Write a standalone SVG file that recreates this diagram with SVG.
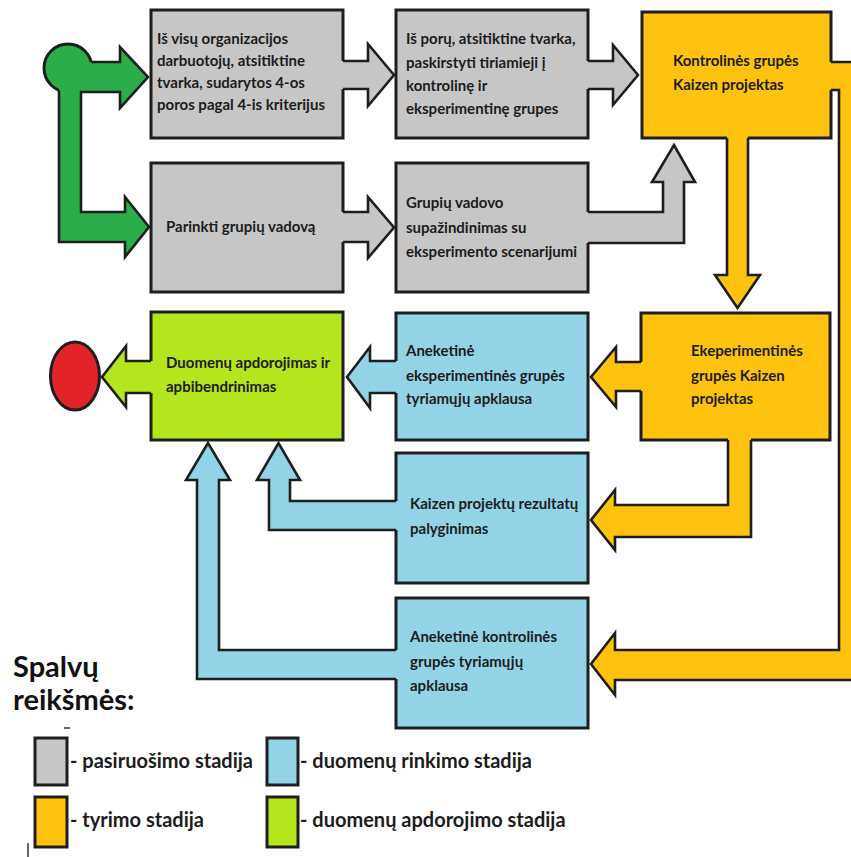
<svg xmlns="http://www.w3.org/2000/svg" width="851" height="857" viewBox="0 0 851 857">
<style>
.box{stroke:#1e1e1e;stroke-width:3}
.gray{fill:#c6c6c6}.yel{fill:#ffc20e}.blue{fill:#93d3e6}.lime{fill:#b5e51d}.grn{fill:#2aae4a}.red{fill:#e2232a}
.af{stroke:none}
.ao{fill:none;stroke:#1e1e1e;stroke-width:2.6;stroke-linejoin:miter}
.t{font-family:Lato,"Liberation Sans",sans-serif;font-weight:700;font-size:15px;fill:#1c1c1c}
.lg{font-family:Lato,"Liberation Sans",sans-serif;font-weight:700;font-size:20px;fill:#1c1c1c}
.hd{font-family:Lato,"Liberation Sans",sans-serif;font-weight:700;font-size:29px;fill:#111}
</style>
<rect width="851" height="857" fill="#fff"/>

<g id="start"><circle cx="68" cy="68" r="24" class="grn box"/></g>
<g id="end"><ellipse cx="75" cy="376" rx="24.5" ry="34" class="red box"/></g>

<g id="n1"><rect x="151" y="10" width="192" height="128" class="gray box"/>
<text class="t" x="157" y="44">Iš visų organizacijos</text><text class="t" x="157" y="66">darbuotojų, atsitiktine</text><text class="t" x="157" y="88">tvarka, sudarytos 4-os</text><text class="t" x="157" y="110">poros pagal 4-is kriterijus</text></g>
<g id="n2"><rect x="151" y="163" width="192" height="129" class="gray box"/>
<text class="t" x="166" y="232">Parinkti grupių vadovą</text></g>
<g id="n3"><rect x="396" y="10" width="192" height="128" class="gray box"/>
<text class="t" x="406" y="44">Iš porų, atsitiktine tvarka,</text><text class="t" x="406" y="68">paskirstyti tiriamieji į</text><text class="t" x="406" y="91">kontrolinę ir</text><text class="t" x="406" y="114">eksperimentinę grupes</text></g>
<g id="n4"><rect x="396" y="163" width="192" height="129" class="gray box"/>
<text class="t" x="406" y="208">Grupių vadovo</text><text class="t" x="406" y="233">supažindinimas su</text><text class="t" x="406" y="257">eksperimento scenarijumi</text></g>
<g id="n5"><rect x="642" y="12" width="189" height="126" class="yel box"/>
<text class="t" x="673" y="66">Kontrolinės grupės</text><text class="t" x="673" y="90">Kaizen projektas</text></g>
<g id="n6"><rect x="641" y="313" width="189" height="127" class="yel box"/>
<text class="t" x="691" y="356">Ekeperimentinės</text><text class="t" x="691" y="381">grupės Kaizen</text><text class="t" x="691" y="404">projektas</text></g>
<g id="n7"><rect x="151" y="312" width="192" height="128" class="lime box"/>
<text class="t" x="166" y="368">Duomenų apdorojimas ir</text><text class="t" x="166" y="392">apbibendrinimas</text></g>
<g id="n8"><rect x="396" y="313" width="192" height="127" class="blue box"/>
<text class="t" x="406" y="356">Aneketinė</text><text class="t" x="406" y="381">eksperimentinės grupės</text><text class="t" x="406" y="404">tyriamųjų apklausa</text></g>
<g id="n9"><rect x="396" y="453" width="192" height="130" class="blue box"/>
<text class="t" x="410" y="509">Kaizen projektų rezultatų</text><text class="t" x="410" y="534">palyginimas</text></g>
<g id="n10"><rect x="396" y="598" width="192" height="130" class="blue box"/>
<text class="t" x="410" y="642">Aneketinė kontrolinės</text><text class="t" x="410" y="667">grupės tyriamųjų</text><text class="t" x="410" y="691">apklausa</text></g>

<g id="connectors">
<!-- start arms -->
<polygon class="grn af" points="80,62 120,62 120,47 148,77 120,108 120,92 81,92 81,212 125,212 125,197 149,227 125,257 125,242 59,242 59,80"/>
<path class="ao" d="M91.2,62 L120,62 L120,47 L148,77 L120,108 L120,92 L81,92 L81,212 L125,212 L125,197 L149,227 L125,257 L125,242 L59,242 L59,90.2"/>
<!-- gray1 -> gray3 -->
<polygon class="gray af" points="340,61 368,61 368,44 394,75 368,106 368,89 340,89"/>
<path class="ao" d="M343,61 L368,61 L368,44 L394,75 L368,106 L368,89 L343,89"/>
<!-- gray2 -> gray4 -->
<polygon class="gray af" points="340,212 368,212 368,197 394,227.5 368,258 368,242 340,242"/>
<path class="ao" d="M343,212 L368,212 L368,197 L394,227.5 L368,258 L368,242 L343,242"/>
<!-- gray3 -> yellow1 -->
<polygon class="gray af" points="585,61 613,61 613,45 638,75 613,105 613,89 585,89"/>
<path class="ao" d="M588,61 L613,61 L613,45 L638,75 L613,105 L613,89 L588,89"/>
<!-- gray4 -> yellow1 -->
<polygon class="gray af" points="585,212 663,212 663,182 652,182 674,145 695,182 684,182 684,243 585,243"/>
<path class="ao" d="M588,212 L663,212 L663,182 L652,182 L674,145 L695,182 L684,182 L684,243 L588,243"/>
<!-- yellow1 -> yellow2 -->
<polygon class="yel af" points="727,135 727,275 715,275 737.5,308 760,275 748,275 748,135"/>
<path class="ao" d="M727,138 L727,275 L715,275 L737.5,308 L760,275 L748,275 L748,138"/>
<!-- yellow1 -> blue3 -->
<polygon class="yel af" points="828,62 875,62 875,680 615,680 615,695 591,664 615,633 615,650 839,650 839,90 828,90"/>
<path class="ao" d="M831,62 L875,62 M831,90 L839,90 L839,650 L615,650 L615,633 L591,664 L615,695 L615,680 L875,680"/>
<!-- yellow2 -> blue1 -->
<polygon class="yel af" points="644,362 616,362 616,347 591,377 616,407 616,391 644,391"/>
<path class="ao" d="M641,362 L616,362 L616,347 L591,377 L616,407 L616,391 L641,391"/>
<!-- yellow2 -> blue2 -->
<polygon class="yel af" points="728,437 728,505 615,505 615,490 591,520 615,550 615,537 751,537 751,437"/>
<path class="ao" d="M728,440 L728,505 L615,505 L615,490 L591,520 L615,550 L615,537 L751,537 L751,440"/>
<!-- blue1 -> green box -->
<polygon class="blue af" points="399,361 370,361 370,347 347,377 370,408 370,393 399,393"/>
<path class="ao" d="M396,361 L370,361 L370,347 L347,377 L370,408 L370,393 L396,393"/>
<!-- green box -> end -->
<polygon class="lime af" points="154,361 126,361 126,346 102,377 126,407 126,393 154,393"/>
<path class="ao" d="M151,361 L126,361 L126,346 L102,377 L126,407 L126,393 L151,393"/>
<!-- blue2 -> green box -->
<polygon class="blue af" points="399,501 290,501 290,480 300,480 278.5,443 257,480 269,480 269,530 399,530"/>
<path class="ao" d="M396,501 L290,501 L290,480 L300,480 L278.5,443 L257,480 L269,480 L269,530 L396,530"/>
<!-- blue3 -> green box -->
<polygon class="blue af" points="399,650 219,650 219,480 230,480 208,443 186,480 197,480 197,679 399,679"/>
<path class="ao" d="M396,650 L219,650 L219,480 L230,480 L208,443 L186,480 L197,480 L197,679 L396,679"/>
</g>

<g id="legend">
<text class="hd" x="13" y="677">Spalvų</text>
<text class="hd" x="13" y="710">reikšmės:</text>
<line x1="64" y1="728" x2="70" y2="728" stroke="#333" stroke-width="1.5"/>
<rect x="35" y="738" width="32" height="47" class="gray box"/>
<text class="lg" x="70" y="768">- pasiruošimo stadija</text>
<rect x="35" y="797" width="32" height="50" class="yel box"/>
<text class="lg" x="70" y="827">- tyrimo stadija</text>
<rect x="267" y="738" width="31" height="47" class="blue box"/>
<text class="lg" x="300" y="768">- duomenų rinkimo stadija</text>
<rect x="267" y="797" width="31" height="50" class="lime box"/>
<text class="lg" x="300" y="827">- duomenų apdorojimo stadija</text>
<line x1="28" y1="843" x2="28" y2="857" stroke="#333" stroke-width="1.5"/>
</g>
</svg>
